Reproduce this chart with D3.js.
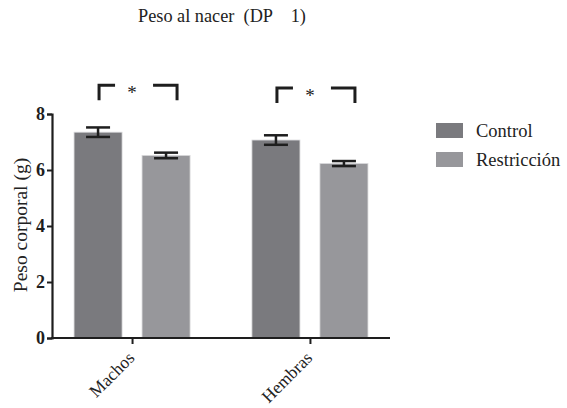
<!DOCTYPE html>
<html>
<head>
<meta charset="utf-8">
<script src="https://cdn.jsdelivr.net/npm/d3@7"></script>
<style>
  body { margin: 0; background: #fff; }
</style>
</head>
<body>
<div id="output"></div>
<script>
(function () {

"use strict";

var groups = [ "Machos", "Hembras" ]
var seriesNames = [ "Control", "Restricción" ]
var controlMean = [ 7.35, 7.07 ]
var controlSem = [ 0.17, 0.17 ]
var restrMean = [ 6.52, 6.23 ]
var restrSem = [ 0.1, 0.09 ]
var yTicks = [ 0, 2, 4, 6, 8 ]
var sigLevel = [ 9.03, 8.93 ]
var colors = [ "#7a7a7e", "#97979b" ]

var width = 567, height = 408
var serif = "'Liberation Serif', 'Times New Roman', serif"

var svg = d3.select("#output").append("svg").attr("width", width).attr("height", height)

var x = d3.scalePoint().domain(groups).range([52, 390]).padding(0.45)
var inner = d3.scaleBand().domain(seriesNames).range([-58, 58]).paddingInner(0.294)
var y = d3.scaleLinear().domain([0, 8]).range([338, 114])
var color = d3.scaleOrdinal().domain(seriesNames).range(colors)

// flatten data into bar records
var bars = []
groups.forEach(function (g, i) {
  bars.push({ group: g, series: seriesNames[0], mean: controlMean[i], sem: controlSem[i] })
  bars.push({ group: g, series: seriesNames[1], mean: restrMean[i], sem: restrSem[i] })
})

// Title
svg.append("text")
  .attr("x", 138).attr("y", 22)
  .style("font-family", serif)
  .style("font-size", "18.3px")
  .style("fill", "#222")
  .style("white-space", "pre")
  .text("Peso al nacer  (DP    1)")

// Bars
svg.selectAll("rect.bar").data(bars).enter().append("rect")
  .attr("class", "bar")
  .attr("x", function (d) { return x(d.group) + inner(d.series) })
  .attr("y", function (d) { return y(d.mean) })
  .attr("width", inner.bandwidth())
  .attr("height", function (d) { return y(0) - y(d.mean) })
  .style("fill", function (d) { return color(d.series) })
  .style("stroke", "#d8d8da").style("stroke-width", 0.8)

// Error bars
var err = svg.selectAll("g.err").data(bars).enter().append("g")
  .attr("class", "err")
  .attr("transform", function (d) { return "translate(" + (x(d.group) + inner(d.series) + inner.bandwidth() / 2) + ",0)" })
err.append("line")
  .attr("x1", 0).attr("x2", 0)
  .attr("y1", function (d) { return y(d.mean + d.sem) })
  .attr("y2", function (d) { return y(d.mean - d.sem) })
err.selectAll("line.cap").data(function (d) { return [ d.mean + d.sem, d.mean - d.sem ] }).enter().append("line")
  .attr("class", "cap")
  .attr("x1", -12).attr("x2", 12)
  .attr("y1", function (v) { return y(v) }).attr("y2", function (v) { return y(v) })
err.selectAll("line").style("stroke", "#1e1e1e").style("stroke-width", 2.5)

// Y axis
var yAxis = svg.append("g")
  .attr("transform", "translate(52,0)")
  .call(d3.axisLeft(y).tickValues(yTicks).tickFormat(d3.format("d")).tickSize(5).tickPadding(2))
yAxis.select(".domain").style("stroke", "#1e1e1e").style("stroke-width", 2.2)
yAxis.selectAll(".tick line").style("stroke", "#1e1e1e").style("stroke-width", 2)
yAxis.selectAll(".tick text")
  .style("font-family", serif)
  .style("font-size", "18px").style("font-weight", "bold").style("fill", "#1e1e1e")

// X axis
var xAxis = svg.append("g")
  .attr("transform", "translate(0," + y(0) + ")")
  .call(d3.axisBottom(x).tickSize(6).tickSizeOuter(0))
xAxis.select(".domain").attr("d", "M51,0H390").style("stroke", "#1e1e1e").style("stroke-width", 2.2)
xAxis.selectAll(".tick line").style("stroke", "#1e1e1e").style("stroke-width", 2)
xAxis.selectAll(".tick text")
  .attr("text-anchor", "end")
  .attr("dy", 0).attr("y", 0)
  .attr("transform", "translate(3,21) rotate(-45)")
  .style("font-family", serif)
  .style("font-size", "17.5px").style("fill", "#222")

// Y label
svg.append("text")
  .attr("transform", "translate(27,225) rotate(-90)")
  .attr("text-anchor", "middle")
  .style("font-family", serif)
  .style("font-size", "19.5px")
  .style("fill", "#222")
  .text("Peso corporal (g)")

// Significance brackets
var sig = svg.selectAll("g.sig").data(groups).enter().append("g")
  .attr("class", "sig")
  .attr("transform", function (g, i) { return "translate(" + x(g) + "," + y(sigLevel[i]) + ")" })
sig.append("path")
  .attr("d", "M-33,15V0H-17")
sig.append("path")
  .attr("d", "M21,0H45V15")
sig.selectAll("path").style("fill", "none").style("stroke", "#1e1e1e").style("stroke-width", 3)
sig.append("text")
  .attr("x", 0).attr("y", 14)
  .attr("text-anchor", "middle")
  .style("font-family", serif)
  .style("font-size", "19px")
  .style("fill", "#222")
  .text("*")

// Legend
var legend = svg.selectAll("g.legend").data(seriesNames).enter().append("g")
  .attr("class", "legend")
  .attr("transform", function (d, i) { return "translate(436," + (123 + i * 29) + ")" })
legend.append("rect")
  .attr("width", 27).attr("height", 15)
  .style("fill", function (d) { return color(d) })
legend.append("text")
  .attr("x", 40).attr("y", 14)
  .style("font-family", serif)
  .style("font-size", "18.5px")
  .style("fill", "#222")
  .text(function (d) { return d })

}())
</script>
</body>
</html>
